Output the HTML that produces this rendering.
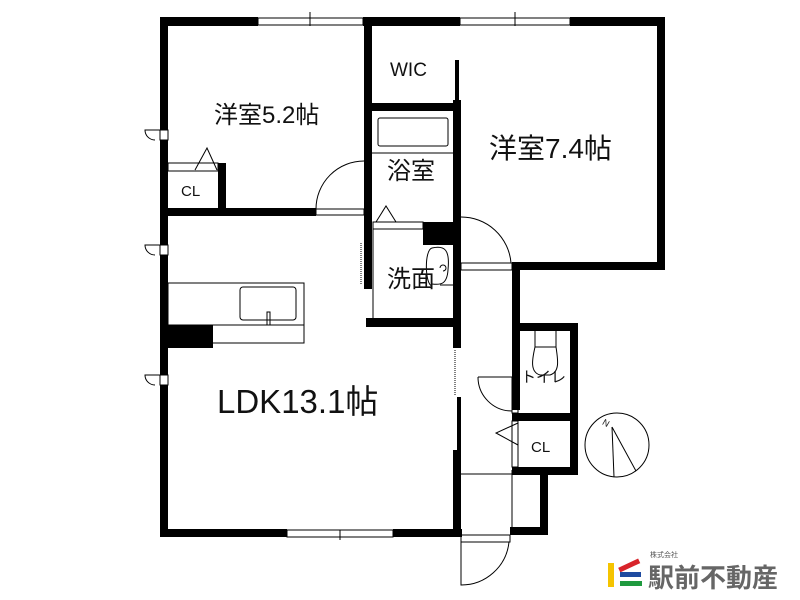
<!DOCTYPE html>
<html><head><meta charset="utf-8"><style>
html,body{margin:0;padding:0;background:#fff;}
svg{display:block}
text{font-family:"Liberation Sans","Noto Sans CJK JP",sans-serif;fill:#111}
</style></head><body>
<svg width="800" height="600" viewBox="0 0 800 600" xmlns="http://www.w3.org/2000/svg">
<rect width="800" height="600" fill="#fff"/>
<g fill="#000">
<rect x="160" y="17" width="98" height="9"/>
<rect x="363" y="17" width="97" height="9"/>
<rect x="570" y="17" width="95" height="9"/>
<rect x="160" y="17" width="8" height="113"/>
<rect x="160" y="140" width="8" height="105"/>
<rect x="160" y="255" width="8" height="120"/>
<rect x="160" y="385" width="8" height="152"/>
<rect x="160" y="529" width="127" height="8"/>
<rect x="393" y="529" width="69" height="8"/>
<rect x="510" y="527" width="38" height="8"/>
<rect x="160" y="208" width="156" height="8"/>
<rect x="218" y="163" width="8" height="50"/>
<rect x="364" y="17" width="8" height="272"/>
<rect x="364" y="103" width="92" height="8"/>
<rect x="366" y="318" width="92" height="9"/>
<rect x="455" y="60" width="4" height="40"/>
<rect x="453" y="100" width="8" height="248"/>
<rect x="457" y="397" width="4" height="53"/>
<rect x="453" y="450" width="8" height="87"/>
<rect x="423" y="222" width="36" height="23"/>
<rect x="657" y="17" width="8" height="253"/>
<rect x="512" y="262" width="153" height="8"/>
<rect x="512" y="262" width="8" height="148"/>
<rect x="512" y="323" width="66" height="8"/>
<rect x="570" y="323" width="8" height="152"/>
<rect x="512" y="413" width="66" height="8"/>
<rect x="512" y="467" width="66" height="8"/>
<rect x="540" y="467" width="8" height="68"/>
<rect x="160" y="325" width="53" height="23"/>
</g>
<g fill="none" stroke="#000" stroke-width="1">
<rect x="258" y="18" width="105" height="7"/><line x1="310" y1="12" x2="310" y2="26"/>
<rect x="460" y="18" width="110" height="7"/><line x1="515" y1="12" x2="515" y2="26"/>
<rect x="287" y="530" width="106" height="7"/><line x1="340" y1="530" x2="340" y2="540"/>
<rect x="160" y="130" width="8" height="10"/><path d="M160 130 L145 130 A10 10 0 0 0 155 140"/>
<rect x="160" y="245" width="8" height="10"/><path d="M160 245 L145 245 A10 10 0 0 0 155 255"/>
<rect x="160" y="375" width="8" height="10"/><path d="M160 375 L145 375 A10 10 0 0 0 155 385"/>
<rect x="168" y="163" width="50" height="8"/>
<path d="M195 170 L207 148 L217 170"/>
<rect x="316" y="209" width="48" height="6"/>
<path d="M316 209 A48 48 0 0 1 364 161"/>
<rect x="378" y="118" width="70" height="28" rx="2"/>
<line x1="372" y1="153" x2="455" y2="153"/>
<rect x="373" y="222" width="50" height="7"/>
<path d="M376 222 L386 206 L396 222"/>
<line x1="373" y1="229" x2="373" y2="318"/>
<path d="M432 286 C425 285 424 250 432 248 C445 245 450 250 448 270 C447 285 440 285 432 284 M440 268 a3 3 0 1 1 3 3"/>
<line x1="440" y1="285" x2="453" y2="285"/>
<line x1="361" y1="243" x2="361" y2="285" stroke-dasharray="1 1"/>
<rect x="461" y="263" width="51" height="7"/>
<path d="M461 217 A50 50 0 0 1 511 263"/>
<line x1="461" y1="474" x2="512" y2="474"/>
<line x1="512" y1="470" x2="512" y2="530"/>
<line x1="455" y1="350" x2="455" y2="395" stroke-dasharray="1 1"/>
<rect x="512" y="377" width="6" height="36"/>
<path d="M478 377 L512 377 M478 377 A34 34 0 0 0 512 411"/>
<path d="M535 331 L535 347 L556 347 L556 331 M535 347 C532 360 530 372 540 375 L550 375 C560 372 558 360 556 347"/>
<rect x="512" y="421" width="6" height="46"/>
<path d="M518 423 L496 433 L518 445"/>
<rect x="461" y="535" width="49" height="7"/>
<path d="M461 542 L461 585 A48 48 0 0 0 509 542"/>
<rect x="168" y="283" width="136" height="60"/>
<line x1="168" y1="325" x2="304" y2="325"/>
<rect x="240" y="287" width="56" height="33" rx="3"/>
<rect x="267" y="312" width="3" height="13"/>
<circle cx="617" cy="445" r="32"/>
<line x1="612" y1="427" x2="614" y2="477"/>
<line x1="612" y1="427" x2="636" y2="471"/>
</g>
<text x="214" y="123" font-size="24">洋室5.2帖</text>
<text x="489" y="158" font-size="28">洋室7.4帖</text>
<text x="217" y="413" font-size="33">LDK13.1帖</text>
<text x="390" y="76" font-size="19">WIC</text>
<text x="387" y="179" font-size="24">浴室</text>
<text x="387" y="287" font-size="24">洗面</text>
<text x="181" y="196" font-size="15">CL</text>
<text x="521" y="382" font-size="15">トイレ</text>
<text x="531" y="452" font-size="15">CL</text>
<text x="603" y="427" font-size="9" transform="rotate(30 608 423)">N</text>
<rect x="608" y="563" width="6" height="24" fill="#f5c400"/>
<rect x="618" y="563" width="22" height="5" fill="#d8242b" transform="rotate(-25 629 565)"/>
<rect x="620" y="572" width="21" height="5" fill="#1e4aa0"/>
<rect x="620" y="581" width="22" height="5" fill="#1f9a3e"/>
<text x="650" y="557" font-size="7" style="fill:#555">株式会社</text>
<text x="648" y="587" font-size="26" style="fill:#666;font-weight:bold">駅前不動産</text>
</svg>
</body></html>
